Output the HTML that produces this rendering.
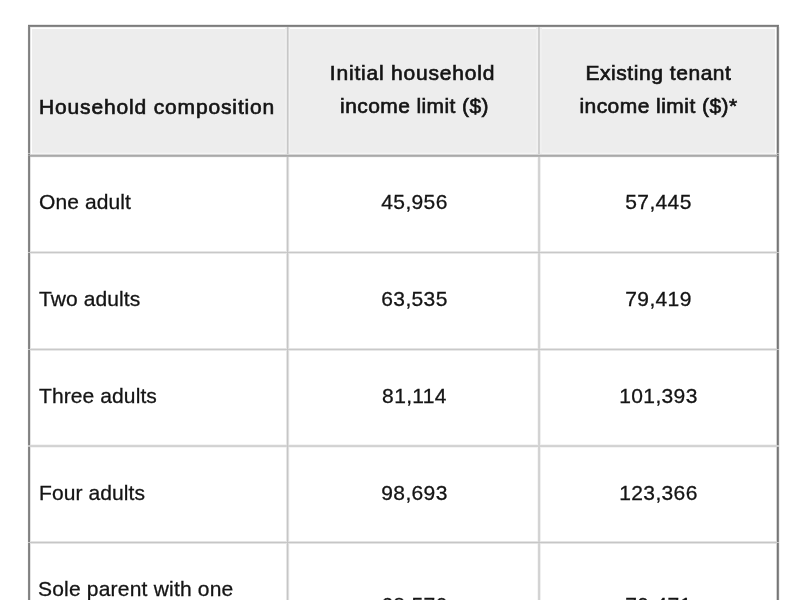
<!DOCTYPE html>
<html><head><meta charset="utf-8">
<style>
html,body{margin:0;padding:0;background:#fff;width:800px;height:600px;overflow:hidden;}
body{position:relative;font-family:"Liberation Sans",sans-serif;color:#141414;}
#w{position:absolute;left:0;top:0;width:800px;height:600px;background:#fff;filter:grayscale(1);}
i{position:absolute;display:block;}
.t{position:absolute;white-space:nowrap;font-size:21px;line-height:24px;}
.b{color:#141414;font-size:21px;letter-spacing:0.65px;-webkit-text-stroke:0.65px #141414;}
.r{letter-spacing:0.1px;-webkit-text-stroke:0.3px #141414;}
.n{letter-spacing:0.35px;-webkit-text-stroke:0.3px #141414;}
.c{text-align:center;}
</style></head><body><div id="w">
<i style="left:32px;top:29px;width:743px;height:124px;background:#ecedec"></i>
<i style="left:289px;top:157px;width:1px;height:443px;background:#fafafa"></i>
<i style="left:27px;top:26px;width:1px;height:574px;background:#f8f8f8"></i>
<i style="left:30px;top:157px;width:747px;height:1px;background:#f8f8f8"></i>
<i style="left:537px;top:157px;width:1px;height:443px;background:#f6f6f6"></i>
<i style="left:32px;top:153px;width:743px;height:1px;background:#f4f5f4"></i>
<i style="left:30px;top:444px;width:747px;height:1px;background:#f4f4f4"></i>
<i style="left:30px;top:447px;width:747px;height:1px;background:#f4f4f4"></i>
<i style="left:289px;top:27px;width:1px;height:127px;background:#f1f2f1"></i>
<i style="left:537px;top:27px;width:1px;height:127px;background:#f0f1f0"></i>
<i style="left:540px;top:27px;width:1px;height:127px;background:#f0f1f0"></i>
<i style="left:540px;top:157px;width:1px;height:443px;background:#f0f0f0"></i>
<i style="left:30px;top:27px;width:747px;height:1px;background:#f0f0f0"></i>
<i style="left:779px;top:27px;width:1px;height:573px;background:#f0f0f0"></i>
<i style="left:285px;top:27px;width:1px;height:127px;background:#eff0ef"></i>
<i style="left:536px;top:27px;width:1px;height:127px;background:#eff0ef"></i>
<i style="left:541px;top:27px;width:1px;height:127px;background:#eff0ef"></i>
<i style="left:32px;top:152px;width:743px;height:1px;background:#eeefee"></i>
<i style="left:286px;top:27px;width:1px;height:127px;background:#eaebea"></i>
<i style="left:28px;top:24px;width:751px;height:1px;background:#e8e8e8"></i>
<i style="left:30px;top:253px;width:747px;height:1px;background:#e8e8e8"></i>
<i style="left:30px;top:350px;width:747px;height:1px;background:#e8e8e8"></i>
<i style="left:286px;top:157px;width:1px;height:443px;background:#e6e6e6"></i>
<i style="left:30px;top:251px;width:747px;height:1px;background:#e6e6e6"></i>
<i style="left:30px;top:27px;width:1px;height:573px;background:#e4e4e4"></i>
<i style="left:30px;top:348px;width:747px;height:1px;background:#e4e4e4"></i>
<i style="left:30px;top:541px;width:747px;height:1px;background:#e4e4e4"></i>
<i style="left:30px;top:543px;width:747px;height:1px;background:#e4e4e4"></i>
<i style="left:288px;top:157px;width:1px;height:443px;background:#dedede"></i>
<i style="left:288px;top:27px;width:1px;height:127px;background:#d8d9d8"></i>
<i style="left:30px;top:154px;width:747px;height:1px;background:#d6d6d6"></i>
<i style="left:538px;top:157px;width:1px;height:443px;background:#d4d4d4"></i>
<i style="left:776px;top:27px;width:1px;height:573px;background:#d4d4d4"></i>
<i style="left:30px;top:445px;width:747px;height:1px;background:#d4d4d4"></i>
<i style="left:539px;top:157px;width:1px;height:443px;background:#d2d2d2"></i>
<i style="left:30px;top:446px;width:747px;height:1px;background:#d2d2d2"></i>
<i style="left:539px;top:27px;width:1px;height:127px;background:#d0d1d0"></i>
<i style="left:538px;top:27px;width:1px;height:127px;background:#cecfce"></i>
<i style="left:30px;top:349px;width:747px;height:1px;background:#c9c9c9"></i>
<i style="left:30px;top:252px;width:747px;height:1px;background:#c8c8c8"></i>
<i style="left:287px;top:27px;width:1px;height:127px;background:#c6c7c6"></i>
<i style="left:287px;top:157px;width:1px;height:443px;background:#c6c6c6"></i>
<i style="left:30px;top:542px;width:747px;height:1px;background:#c6c6c6"></i>
<i style="left:30px;top:156px;width:747px;height:1px;background:#b5b5b5"></i>
<i style="left:30px;top:155px;width:747px;height:1px;background:#a8a9a8"></i>
<i style="left:28px;top:26px;width:751px;height:1px;background:#8a8a8a"></i>
<i style="left:778px;top:25px;width:1px;height:575px;background:#8a8a8a"></i>
<i style="left:28px;top:25px;width:1px;height:575px;background:#888888"></i>
<i style="left:29px;top:25px;width:1px;height:575px;background:#808080"></i>
<i style="left:28px;top:25px;width:751px;height:1px;background:#7c7c7c"></i>
<i style="left:777px;top:25px;width:1px;height:575px;background:#767676"></i>
<i style="left:28px;top:252px;width:1px;height:1px;background:#c4c4c4"></i>
<i style="left:29px;top:252px;width:1px;height:1px;background:#c4c4c4"></i>
<i style="left:777px;top:252px;width:1px;height:1px;background:#c4c4c4"></i>
<i style="left:778px;top:252px;width:1px;height:1px;background:#c4c4c4"></i>
<i style="left:28px;top:349px;width:1px;height:1px;background:#c4c4c4"></i>
<i style="left:29px;top:349px;width:1px;height:1px;background:#c4c4c4"></i>
<i style="left:777px;top:349px;width:1px;height:1px;background:#c4c4c4"></i>
<i style="left:778px;top:349px;width:1px;height:1px;background:#c4c4c4"></i>
<i style="left:28px;top:445px;width:1px;height:1px;background:#c4c4c4"></i>
<i style="left:29px;top:445px;width:1px;height:1px;background:#c4c4c4"></i>
<i style="left:777px;top:445px;width:1px;height:1px;background:#c4c4c4"></i>
<i style="left:778px;top:445px;width:1px;height:1px;background:#c4c4c4"></i>
<i style="left:28px;top:446px;width:1px;height:1px;background:#c4c4c4"></i>
<i style="left:29px;top:446px;width:1px;height:1px;background:#c4c4c4"></i>
<i style="left:777px;top:446px;width:1px;height:1px;background:#c4c4c4"></i>
<i style="left:778px;top:446px;width:1px;height:1px;background:#c4c4c4"></i>
<i style="left:28px;top:542px;width:1px;height:1px;background:#c4c4c4"></i>
<i style="left:29px;top:542px;width:1px;height:1px;background:#c4c4c4"></i>
<i style="left:777px;top:542px;width:1px;height:1px;background:#c4c4c4"></i>
<i style="left:778px;top:542px;width:1px;height:1px;background:#c4c4c4"></i>
<i style="left:28px;top:153px;width:1px;height:1px;background:#bcbcbc"></i>
<i style="left:28px;top:155px;width:1px;height:1px;background:#a0a0a0"></i>
<i style="left:29px;top:153px;width:1px;height:1px;background:#bcbcbc"></i>
<i style="left:29px;top:155px;width:1px;height:1px;background:#a0a0a0"></i>
<i style="left:777px;top:153px;width:1px;height:1px;background:#bcbcbc"></i>
<i style="left:777px;top:155px;width:1px;height:1px;background:#a0a0a0"></i>
<i style="left:778px;top:153px;width:1px;height:1px;background:#bcbcbc"></i>
<i style="left:778px;top:155px;width:1px;height:1px;background:#a0a0a0"></i>
<div class="t b" style="left:39px;top:95px;letter-spacing:0.85px">Household composition</div>
<div class="t b c" style="left:288px;width:249px;top:61px;letter-spacing:0.8px">Initial household</div>
<div class="t b c" style="left:290px;width:249px;top:94px;letter-spacing:0.4px">income limit ($)</div>
<div class="t b c" style="left:540px;width:237px;top:61px;letter-spacing:0.55px">Existing tenant</div>
<div class="t b c" style="left:540px;width:237px;top:94px;letter-spacing:0.45px">income limit ($)*</div>
<div class="t r" style="left:39px;top:190px;">One adult</div>
<div class="t c n" style="left:290px;width:249px;top:190px;">45,956</div>
<div class="t c n" style="left:540px;width:237px;top:190px;">57,445</div>
<div class="t r" style="left:39px;top:287px;">Two adults</div>
<div class="t c n" style="left:290px;width:249px;top:287px;">63,535</div>
<div class="t c n" style="left:540px;width:237px;top:287px;">79,419</div>
<div class="t r" style="left:39px;top:384px;">Three adults</div>
<div class="t c n" style="left:290px;width:249px;top:384px;">81,114</div>
<div class="t c n" style="left:540px;width:237px;top:384px;">101,393</div>
<div class="t r" style="left:39px;top:481px;">Four adults</div>
<div class="t c n" style="left:290px;width:249px;top:481px;">98,693</div>
<div class="t c n" style="left:540px;width:237px;top:481px;">123,366</div>
<div class="t r" style="left:38px;top:577px;letter-spacing:0.2px">Sole parent with one</div>
<div class="t c n" style="left:290px;width:249px;top:593px;">68,570</div>
<div class="t c n" style="left:540px;width:237px;top:593px;">79,471</div>
</div></body></html>
